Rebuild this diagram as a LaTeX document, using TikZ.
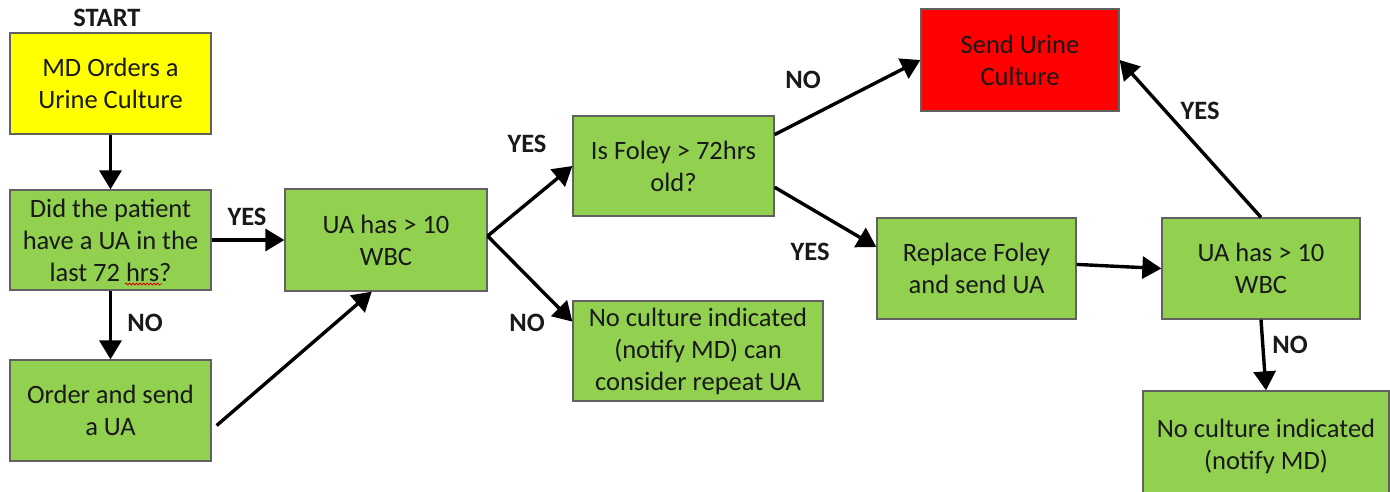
\documentclass[tikz,border=0pt]{standalone}
\usepackage{fontspec}
\setmainfont{Carlito}
\usetikzlibrary{arrows.meta,calc,decorations.pathmorphing}
\definecolor{boxgreen}{HTML}{92D050}
\definecolor{boxyellow}{HTML}{FFFF00}
\definecolor{boxred}{HTML}{FF0000}
\tikzset{
  box/.style={draw=black!62, line width=1.3pt, fill=boxgreen, align=center,
    inner sep=0pt, font=\fontsize{26.5}{32}\selectfont, text=black!90},
  lbl/.style={font=\fontsize{26.5}{30}\selectfont\bfseries, text=black!90, inner sep=0pt},
  arr/.style={line width=3.4pt, -{Triangle[length=19pt,width=22pt]}, black},
  squiggle/.style={draw=red!85!black, line width=0.8pt, decorate,
    decoration={snake, amplitude=1pt, segment length=3.5pt}},
}
\begin{document}
\begin{tikzpicture}[x=1pt,y=-1pt]
\useasboundingbox (0,0) rectangle (1390,491);
\begin{scope}
\clip (0,0) rectangle (1390,491);
\node[box, fill=boxyellow, minimum width=201pt, minimum height=101pt] (md) at (110.5,83.5) {MD Orders a\\Urine Culture};
\node[box, minimum width=201pt, minimum height=100pt] (did) at (110.5,240) {Did the patient\\have a UA in the\\last 72 hrs?};
\node[box, minimum width=201pt, minimum height=101pt] (order) at (110.5,410.5) {Order and send\\a UA};
\node[box, minimum width=202pt, minimum height=102pt] (ua1) at (386,240) {UA has > 10\\WBC};
\node[box, minimum width=201pt, minimum height=100pt] (foley) at (673.5,166) {Is Foley > 72hrs\\old?};
\node[box, minimum width=250pt, minimum height=100pt] (nc1) at (698,351) {No culture indicated\\(notify MD) can\\consider repeat UA};
\node[box, fill=boxred, minimum width=198pt, minimum height=102pt] (send) at (1020,60) {Send Urine\\Culture};
\node[box, minimum width=199pt, minimum height=101pt] (repl) at (976.5,268.5) {Replace Foley\\and send UA};
\node[box, minimum width=198pt, minimum height=101pt] (ua2) at (1261,268.5) {UA has > 10\\WBC};
\node[box, minimum width=246pt, minimum height=110pt] (nc2) at (1266,446) {No culture indicated\\(notify MD)};
\end{scope}

\path[squiggle] (125,284) -- (162,284);

\node[lbl] (start) at (107,18) {START};

\draw[arr] (md.south) -- (did.north);
\draw[arr] (did.east) -- (ua1.west);
\draw[arr] (did.south) -- (order.north);
\draw[arr] ($(order.east)+(5,15)$) -- ($(ua1.south west)!0.43!(ua1.south east)$);
\draw[arr] ($(ua1.east)+(0,-4)$) -- ($(foley.north west)!0.5!(foley.south west)$);
\draw[arr] ($(ua1.east)+(0,-4)$) -- ($(nc1.north west)!0.21!(nc1.south west)$);
\draw[arr] ($(foley.north east)!0.19!(foley.south east)$) -- (send.west);
\draw[arr] ($(foley.north east)!0.71!(foley.south east)$) -- ($(repl.north west)!0.29!(repl.south west)$);
\draw[arr] ($(repl.north east)!0.46!(repl.south east)$) -- (ua2.west);
\draw[arr] (ua2.north) -- (send.east);
\draw[arr] (ua2.south) -- (nc2.north);

\node[lbl] (l1) at (247,217) {YES};
\node[lbl] (l2) at (145,323) {NO};
\node[lbl] (l3) at (527,144) {YES};
\node[lbl] (l4) at (527,323) {NO};
\node[lbl] (l5) at (803,80) {NO};
\node[lbl] (l6) at (810,252) {YES};
\node[lbl] (l7) at (1200,111) {YES};
\node[lbl] (l8) at (1290,345) {NO};
\end{tikzpicture}
\end{document}
